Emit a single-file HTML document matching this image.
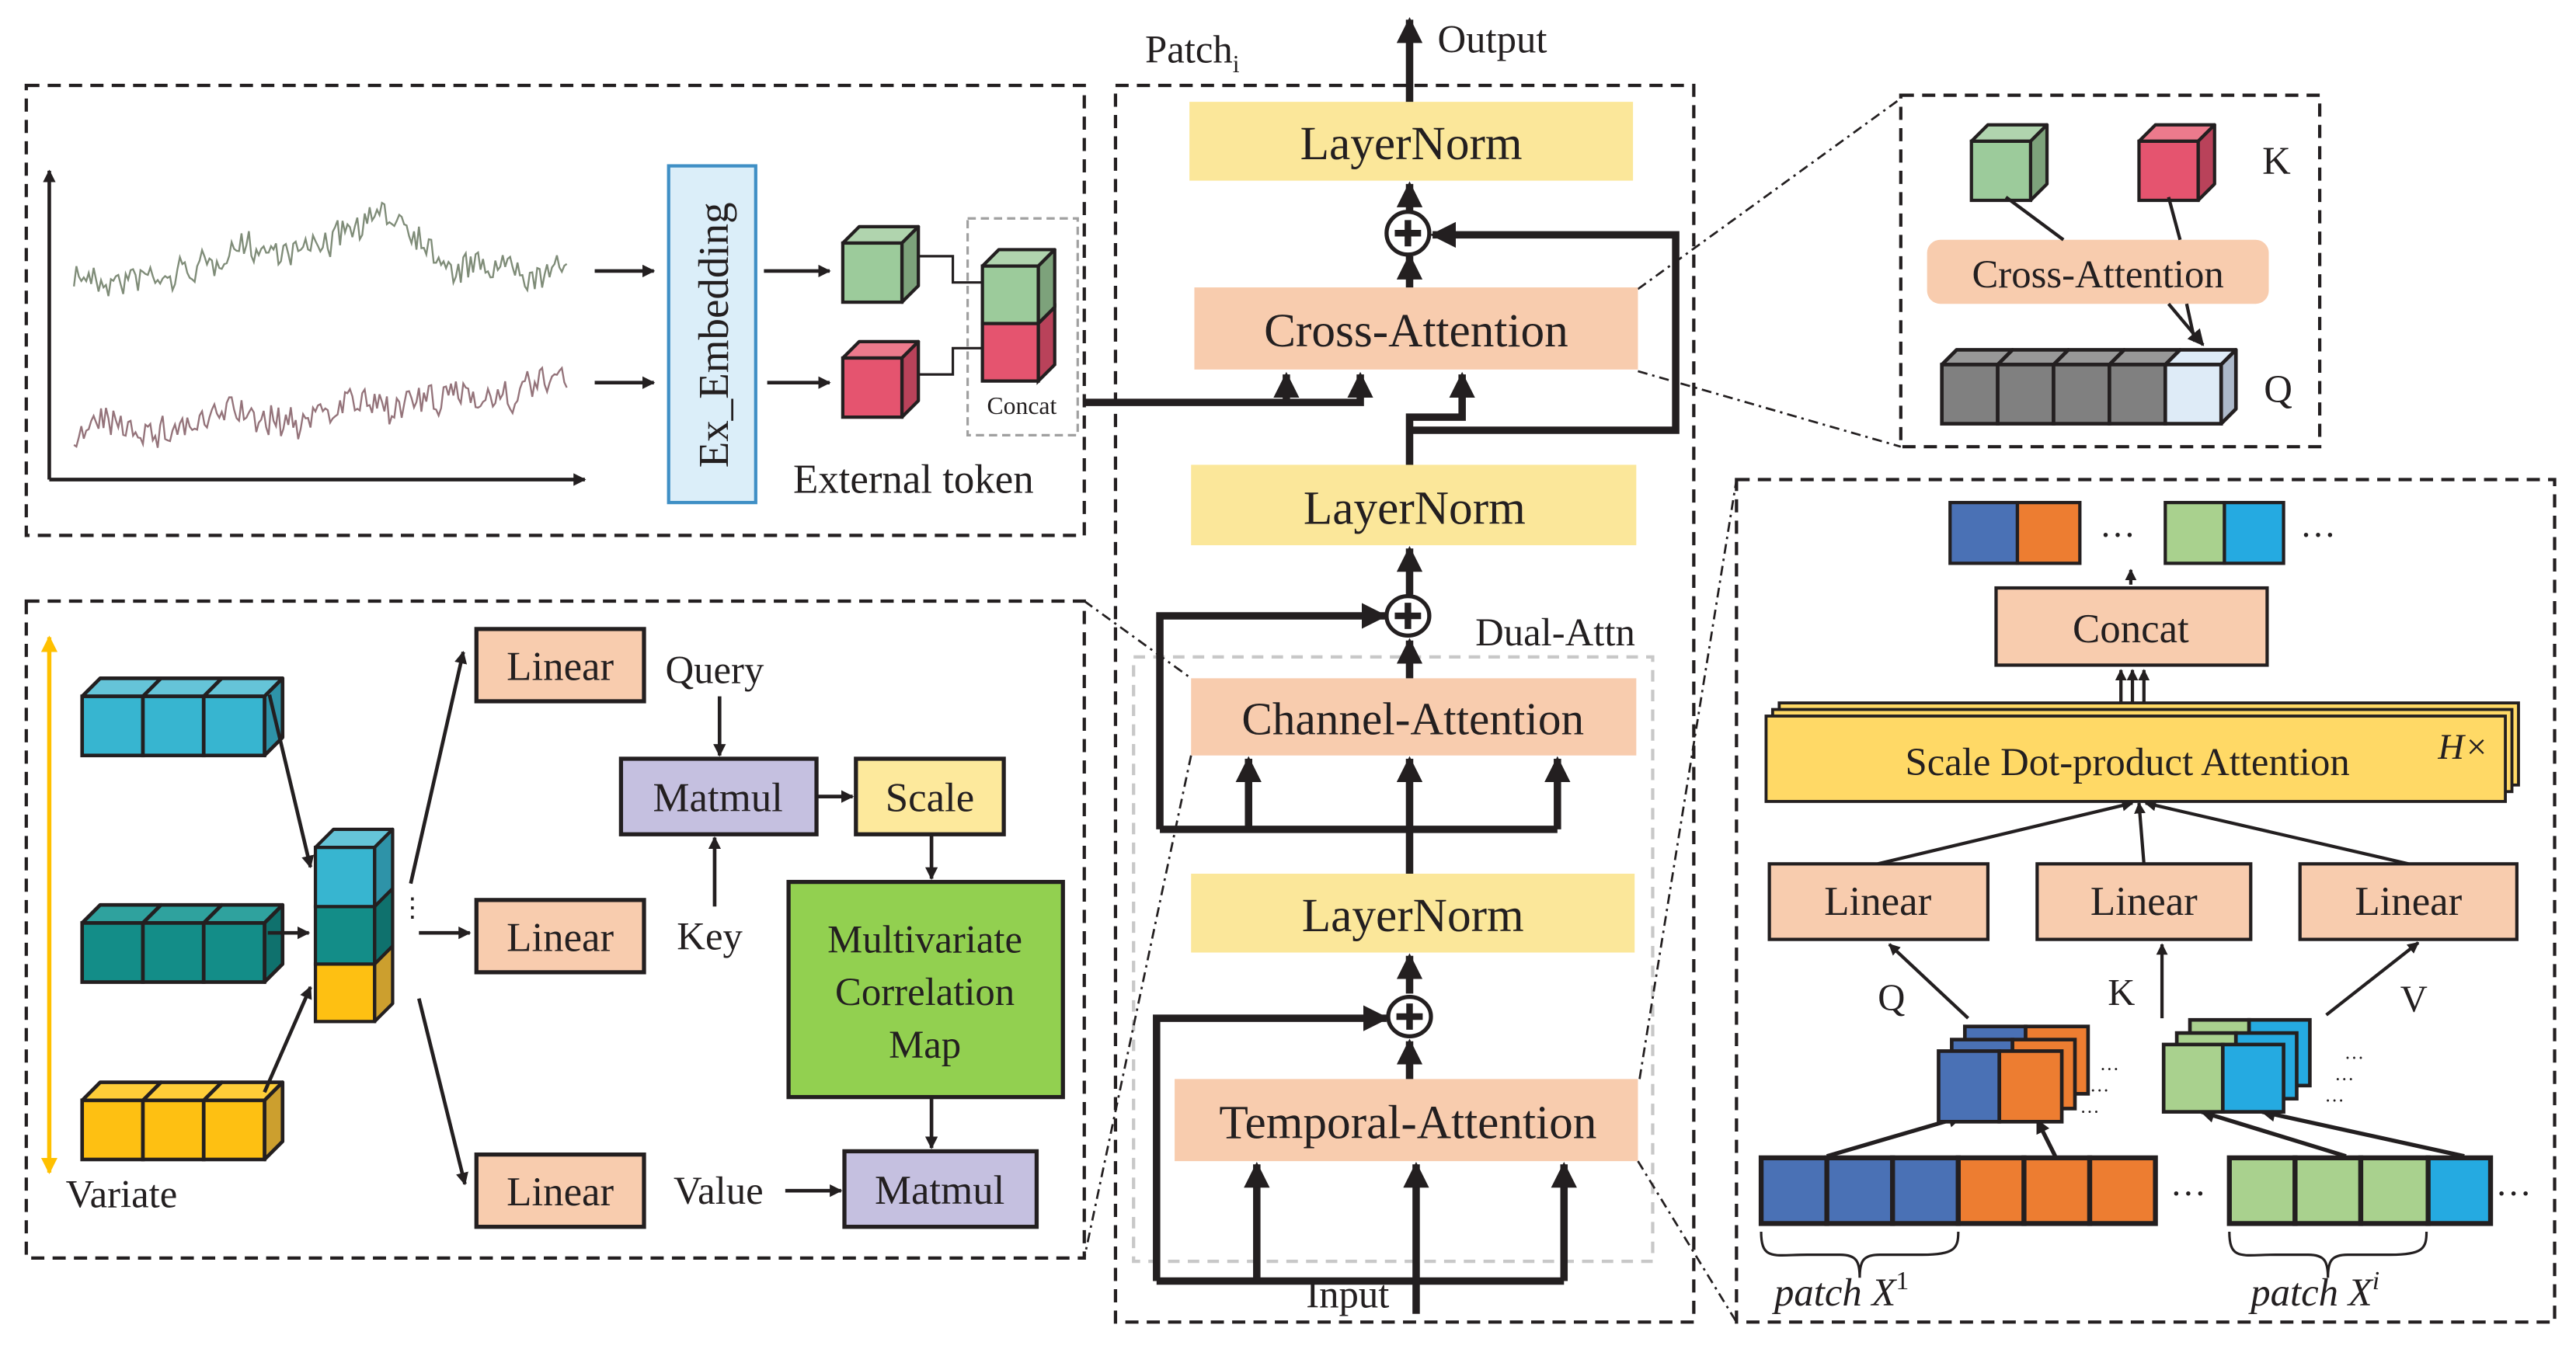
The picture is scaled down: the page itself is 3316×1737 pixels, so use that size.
<!DOCTYPE html>
<html><head><meta charset="utf-8">
<style>
html,body{margin:0;padding:0;background:#fff;}
svg{display:block;}
text{font-family:"Liberation Serif",serif;fill:#231f20;}
</style></head>
<body>
<svg id="s" xmlns="http://www.w3.org/2000/svg" width="3316" height="1737" viewBox="0 0 1568 821.4" preserveAspectRatio="none">
<defs>
<marker id="ah" viewBox="0 0 10 10" refX="9" refY="5" markerWidth="3.5" markerHeight="3.5" orient="auto"><path d="M0,0 L10,5 L0,10 z" fill="#231f20"/></marker>
<marker id="ah2" viewBox="0 0 10 10" refX="9" refY="5" markerWidth="5" markerHeight="5" orient="auto"><path d="M0,0 L10,5 L0,10 z" fill="#231f20"/></marker>
<marker id="ahy" viewBox="0 0 10 10" refX="9" refY="5" markerWidth="4" markerHeight="4" orient="auto"><path d="M0,0 L10,5 L0,10 z" fill="#ffc000"/></marker>
</defs>

<g fill="none" stroke="#231f20" stroke-width="2" stroke-dasharray="8,5">
<rect x="16" y="52" width="644" height="274"/>
<rect x="16" y="366" width="644" height="400"/>
<rect x="679" y="52" width="352" height="753"/>
<rect x="1157" y="58" width="255" height="214"/>
<rect x="1057" y="292" width="498" height="513"/>
</g>
<rect x="690" y="400" width="316" height="368" fill="none" stroke="#c8c8c8" stroke-width="2" stroke-dasharray="7,5"/>
<rect x="589" y="133" width="67" height="132" fill="none" stroke="#a0a0a0" stroke-width="1.5" stroke-dasharray="5,3"/>

<g fill="none" stroke="#231f20" stroke-width="1.3" stroke-dasharray="6,3,1.5,3">
<line x1="997" y1="176" x2="1157" y2="60"/>
<line x1="997" y1="226" x2="1157" y2="272"/>
<line x1="660" y1="366" x2="725" y2="413"/>
<line x1="725" y1="460" x2="660" y2="766"/>
<line x1="998" y1="657" x2="1057" y2="292"/>
<line x1="997" y1="707" x2="1057" y2="805"/>
</g>

<g stroke="#231f20" stroke-width="2.2" fill="none">
<line x1="30" y1="292" x2="30" y2="104" marker-end="url(#ah)"/>
<line x1="30" y1="292" x2="356" y2="292" marker-end="url(#ah)"/>
<line x1="362" y1="165" x2="398" y2="165" marker-end="url(#ah)"/>
<line x1="362" y1="233" x2="398" y2="233" marker-end="url(#ah)"/>
<line x1="465" y1="165" x2="505" y2="165" marker-end="url(#ah)"/>
<line x1="467" y1="233" x2="505" y2="233" marker-end="url(#ah)"/>
<polyline points="553,156 580,156 580,172 598,172" stroke-width="1.5"/>
<polyline points="553,228 580,228 580,212 598,212" stroke-width="1.5"/>
</g>
<polyline id="n1" fill="none" stroke="#7f8c78" stroke-width="1.1"/>
<polyline id="n2" fill="none" stroke="#94737a" stroke-width="1.1"/>

<rect x="407" y="101" width="53" height="205" fill="#dbeef9" stroke="#3f8fc5" stroke-width="2"/>
<text x="0" y="0" font-size="26" text-anchor="middle" transform="translate(443,204) rotate(-90)">Ex_Embedding</text>
<g id="cubesTL"></g>
<text x="622" y="252" font-size="15" text-anchor="middle">Concat</text>
<text x="556" y="300" font-size="25" text-anchor="middle">External token</text>

<rect x="724" y="62" width="270" height="48" fill="#fbe79a"/>
<text x="859" y="97" font-size="29" text-anchor="middle">LayerNorm</text>
<rect x="727" y="175" width="270" height="50" fill="#f8ccae"/>
<text x="862" y="211" font-size="29" text-anchor="middle">Cross-Attention</text>
<rect x="725" y="283" width="271" height="49" fill="#fbe79a"/>
<text x="861" y="319" font-size="29" text-anchor="middle">LayerNorm</text>
<rect x="725" y="413" width="271" height="47" fill="#f8ccae"/>
<text x="860" y="447" font-size="28" text-anchor="middle">Channel-Attention</text>
<rect x="725" y="532" width="270" height="48" fill="#fbe79a"/>
<text x="860" y="567" font-size="29" text-anchor="middle">LayerNorm</text>
<rect x="715" y="657" width="282" height="50" fill="#f8ccae"/>
<text x="857" y="693" font-size="29" text-anchor="middle">Temporal-Attention</text>

<text x="697" y="38" font-size="24">Patch<tspan font-size="15" dy="6">i</tspan></text>
<text x="875" y="32" font-size="24">Output</text>
<text x="898" y="393" font-size="24">Dual-Attn</text>
<text x="795" y="796" font-size="24">Input</text>

<g stroke="#231f20" stroke-width="4.5" fill="none">
<line x1="858" y1="62" x2="858" y2="12" marker-end="url(#ah)"/>
<line x1="858" y1="130" x2="858" y2="112" marker-end="url(#ah)"/>
<line x1="858" y1="175" x2="858" y2="156" marker-end="url(#ah)"/>
<polyline points="660,245 828,245 828,228" marker-end="url(#ah)"/>
<line x1="783" y1="245" x2="783" y2="228" marker-end="url(#ah)"/>
<polyline points="858,283 858,254 890,254 890,228" marker-end="url(#ah)"/>
<polyline points="858,262 1020,262 1020,143 872,143" marker-end="url(#ah)"/>
<line x1="858" y1="362" x2="858" y2="334" marker-end="url(#ah)"/>
<line x1="858" y1="413" x2="858" y2="390" marker-end="url(#ah)"/>
<polyline points="858,532 858,505" />
<polyline points="706,505 948,505"/>
<polyline points="706,505 706,375 843,375" marker-end="url(#ah)"/>
<line x1="760" y1="505" x2="760" y2="462" marker-end="url(#ah)"/>
<line x1="858" y1="505" x2="858" y2="462" marker-end="url(#ah)"/>
<line x1="948" y1="505" x2="948" y2="462" marker-end="url(#ah)"/>
<line x1="858" y1="605" x2="858" y2="582" marker-end="url(#ah)"/>
<line x1="858" y1="657" x2="858" y2="634" marker-end="url(#ah)"/>
<polyline points="704,780 952,780"/>
<polyline points="704,780 704,620 844,620" marker-end="url(#ah)"/>
<line x1="862" y1="800" x2="862" y2="709" marker-end="url(#ah)"/>
<line x1="765" y1="780" x2="765" y2="709" marker-end="url(#ah)"/>
<line x1="952" y1="780" x2="952" y2="709" marker-end="url(#ah)"/>
</g>
<g stroke="#231f20" stroke-width="2.5" fill="#fff">
<ellipse cx="857" cy="142" rx="13" ry="13"/>
<ellipse cx="857" cy="375" rx="13" ry="12"/>
<ellipse cx="858" cy="619" rx="13" ry="12"/>
</g>
<g stroke="#231f20" stroke-width="4">
<line x1="849" y1="142" x2="865" y2="142"/><line x1="857" y1="134" x2="857" y2="150"/>
<line x1="849" y1="375" x2="865" y2="375"/><line x1="857" y1="367" x2="857" y2="383"/>
<line x1="850" y1="619" x2="866" y2="619"/><line x1="858" y1="611" x2="858" y2="627"/>
</g>

<g id="cubesTR"></g>
<rect x="1173" y="146" width="208" height="39" rx="8" fill="#f8ccae"/>
<text x="1277" y="175" font-size="24" text-anchor="middle">Cross-Attention</text>
<g stroke="#231f20" stroke-width="2" fill="none">
<line x1="1320" y1="185" x2="1341" y2="210" marker-end="url(#ah2)"/>
<line x1="1331" y1="185" x2="1336" y2="208"/>
<line x1="1221" y1="120" x2="1256" y2="146"/>
<line x1="1320" y1="120" x2="1327" y2="146"/>
</g>
<text x="1377" y="106" font-size="24">K</text>
<text x="1378" y="245" font-size="24">Q</text>

<line x1="30" y1="712" x2="30" y2="388" stroke="#ffc000" stroke-width="2.5" marker-end="url(#ahy)"/>
<line x1="30" y1="390" x2="30" y2="714" stroke="#ffc000" stroke-width="2.5" marker-end="url(#ahy)"/>
<g id="cubesBL"></g>
<text x="40" y="735" font-size="24">Variate</text>
<g fill="#f8ccae" stroke="#231f20" stroke-width="2.5">
<rect x="290" y="383" width="102" height="44"/>
<rect x="290" y="548" width="102" height="44"/>
<rect x="290" y="703" width="102" height="44"/>
</g>
<text x="341" y="414" font-size="25" text-anchor="middle">Linear</text>
<text x="341" y="579" font-size="25" text-anchor="middle">Linear</text>
<text x="341" y="734" font-size="25" text-anchor="middle">Linear</text>
<rect x="378" y="462" width="119" height="46" fill="#c5c0e0" stroke="#231f20" stroke-width="2.5"/>
<text x="437" y="494" font-size="25" text-anchor="middle">Matmul</text>
<rect x="521" y="462" width="90" height="46" fill="#fde99c" stroke="#231f20" stroke-width="2.5"/>
<text x="566" y="494" font-size="25" text-anchor="middle">Scale</text>
<rect x="480" y="537" width="167" height="131" fill="#92d050" stroke="#231f20" stroke-width="2.5"/>
<text x="563" y="580" font-size="24" text-anchor="middle">Multivariate</text>
<text x="563" y="612" font-size="24" text-anchor="middle">Correlation</text>
<text x="563" y="644" font-size="24" text-anchor="middle">Map</text>
<rect x="514" y="701" width="117" height="46" fill="#c5c0e0" stroke="#231f20" stroke-width="2.5"/>
<text x="572" y="733" font-size="25" text-anchor="middle">Matmul</text>
<text x="405" y="416" font-size="24">Query</text>
<text x="412" y="578" font-size="24">Key</text>
<text x="410" y="733" font-size="24">Value</text>
<text x="243" y="558" font-size="16">⋮</text>
<g stroke="#231f20" stroke-width="2.2" fill="none">
<line x1="164" y1="423" x2="189" y2="528" marker-end="url(#ah)"/>
<line x1="163" y1="568" x2="188" y2="568" marker-end="url(#ah)"/>
<line x1="161" y1="665" x2="189" y2="601" marker-end="url(#ah)"/>
<line x1="250" y1="538" x2="282" y2="397" marker-end="url(#ah)"/>
<line x1="255" y1="568" x2="286" y2="568" marker-end="url(#ah)"/>
<line x1="255" y1="608" x2="283" y2="721" marker-end="url(#ah)"/>
<line x1="438" y1="424" x2="438" y2="460" marker-end="url(#ah)"/>
<line x1="435" y1="552" x2="435" y2="510" marker-end="url(#ah)"/>
<line x1="497" y1="485" x2="519" y2="485" marker-end="url(#ah)"/>
<line x1="567" y1="508" x2="567" y2="535" marker-end="url(#ah)"/>
<line x1="567" y1="668" x2="567" y2="699" marker-end="url(#ah)"/>
<line x1="478" y1="725" x2="512" y2="725" marker-end="url(#ah)"/>
</g>

<g stroke="#231f20" stroke-width="2">
<rect x="1187" y="306" width="41" height="37" fill="#4a71b5"/>
<rect x="1228" y="306" width="38" height="37" fill="#ed7d31"/>
<rect x="1318" y="306" width="36" height="37" fill="#a9d18e"/>
<rect x="1354" y="306" width="36" height="37" fill="#25aae1"/>
</g>
<text x="1278" y="333" font-size="22">···</text>
<text x="1400" y="333" font-size="22">···</text>
<rect x="1215" y="358" width="165" height="47" fill="#f8ccae" stroke="#231f20" stroke-width="2"/>
<text x="1297" y="391" font-size="25" text-anchor="middle">Concat</text>
<g stroke="#231f20" stroke-width="1.8" fill="#ffd966">
<rect x="1083" y="428" width="450" height="50"/>
<rect x="1079" y="432" width="450" height="50"/>
<rect x="1075" y="436" width="450" height="52"/>
</g>
<text x="1295" y="472" font-size="24" text-anchor="middle">Scale Dot-product Attention</text>
<text x="1484" y="462" font-size="22" font-style="italic">H×</text>
<g fill="#f8ccae" stroke="#231f20" stroke-width="2">
<rect x="1077" y="526" width="133" height="46"/>
<rect x="1240" y="526" width="130" height="46"/>
<rect x="1400" y="526" width="132" height="46"/>
</g>
<text x="1143" y="557" font-size="25" text-anchor="middle">Linear</text>
<text x="1305" y="557" font-size="25" text-anchor="middle">Linear</text>
<text x="1466" y="557" font-size="25" text-anchor="middle">Linear</text>
<text x="1143" y="615" font-size="23">Q</text>
<text x="1283" y="612" font-size="23">K</text>
<text x="1461" y="616" font-size="23">V</text>
<g stroke="#231f20" stroke-width="2" fill="none">
<line x1="1297" y1="356" x2="1297" y2="347" marker-end="url(#ah)"/>
<line x1="1291" y1="428" x2="1291" y2="408" marker-end="url(#ah)"/>
<line x1="1298" y1="428" x2="1298" y2="408" marker-end="url(#ah)"/>
<line x1="1305" y1="428" x2="1305" y2="408" marker-end="url(#ah)"/>
<line x1="1143" y1="526" x2="1298" y2="489" marker-end="url(#ah)"/>
<line x1="1305" y1="526" x2="1302" y2="489" marker-end="url(#ah)"/>
<line x1="1466" y1="526" x2="1306" y2="489" marker-end="url(#ah)"/>
<line x1="1198" y1="620" x2="1150" y2="575" marker-end="url(#ah)"/>
<line x1="1316" y1="620" x2="1316" y2="575" marker-end="url(#ah)"/>
<line x1="1416" y1="618" x2="1472" y2="574" marker-end="url(#ah)"/>
<line x1="1112" y1="704" x2="1194" y2="680" stroke-width="2.5" marker-end="url(#ah)"/>
<line x1="1251" y1="704" x2="1240" y2="682" stroke-width="2.5" marker-end="url(#ah)"/>
<line x1="1428" y1="704" x2="1340" y2="677" stroke-width="2.5" marker-end="url(#ah)"/>
<line x1="1500" y1="704" x2="1377" y2="677" stroke-width="2.5" marker-end="url(#ah)"/>
</g>
<g stroke="#231f20" stroke-width="2.2">
<rect x="1196" y="625" width="37" height="41" fill="#4a71b5"/><rect x="1233" y="625" width="38" height="41" fill="#ed7d31"/>
<rect x="1188" y="633" width="37" height="42" fill="#4a71b5"/><rect x="1225" y="633" width="38" height="42" fill="#ed7d31"/>
<rect x="1180" y="640" width="37" height="43" fill="#4a71b5"/><rect x="1217" y="640" width="38" height="43" fill="#ed7d31"/>
<rect x="1333" y="621" width="36" height="40" fill="#a9d18e"/><rect x="1369" y="621" width="37" height="40" fill="#25aae1"/>
<rect x="1325" y="629" width="36" height="40" fill="#a9d18e"/><rect x="1361" y="629" width="37" height="40" fill="#25aae1"/>
<rect x="1317" y="636" width="36" height="41" fill="#a9d18e"/><rect x="1353" y="636" width="37" height="41" fill="#25aae1"/>
</g>
<g font-size="12">
<text x="1278" y="655">···</text><text x="1272" y="668">···</text><text x="1266" y="681">···</text>
<text x="1427" y="648">···</text><text x="1421" y="661">···</text><text x="1415" y="674">···</text>
</g>
<g stroke="#231f20" stroke-width="3">
<rect x="1072" y="705" width="40" height="40" fill="#4a71b5"/>
<rect x="1112" y="705" width="40" height="40" fill="#4a71b5"/>
<rect x="1152" y="705" width="40" height="40" fill="#4a71b5"/>
<rect x="1192" y="705" width="40" height="40" fill="#ed7d31"/>
<rect x="1232" y="705" width="40" height="40" fill="#ed7d31"/>
<rect x="1272" y="705" width="40" height="40" fill="#ed7d31"/>
<rect x="1357" y="705" width="40" height="40" fill="#a9d18e"/>
<rect x="1397" y="705" width="40" height="40" fill="#a9d18e"/>
<rect x="1437" y="705" width="41" height="40" fill="#a9d18e"/>
<rect x="1478" y="705" width="38" height="40" fill="#25aae1"/>
</g>
<text x="1321" y="734" font-size="22">···</text>
<text x="1519" y="734" font-size="22">···</text>
<g stroke="#231f20" stroke-width="1.5" fill="none">
<path d="M1072,750 C1072,768 1080,764 1100,764 L1120,764 C1130,764 1132,768 1132,778 C1132,768 1134,764 1144,764 L1170,764 C1190,764 1192,760 1192,750"/>
<path d="M1357,750 C1357,768 1365,764 1385,764 L1405,764 C1415,764 1417,768 1417,778 C1417,768 1419,764 1429,764 L1455,764 C1475,764 1477,760 1477,750"/>
</g>
<text x="1080" y="795" font-size="24" font-style="italic">patch X<tspan font-size="16" dy="-10" font-style="normal">1</tspan></text>
<text x="1370" y="795" font-size="24" font-style="italic">patch X<tspan font-size="16" dy="-10">i</tspan></text>
</svg>
<script>
(function(){
var NS="http://www.w3.org/2000/svg";
function el(p,t,a){var e=document.createElementNS(NS,t);for(var k in a)e.setAttribute(k,a[k]);p.appendChild(e);return e;}
function topf(g,x,y,w,d,t,sw){el(g,"polygon",{points:[x,y,x+d,y-d,x+w+d,y-d,x+w,y].join(","),fill:t,stroke:"#231f20","stroke-width":sw,"stroke-linejoin":"round"});}
function sidef(g,x,y,h,d,s,sw){el(g,"polygon",{points:[x,y,x+d,y-d,x+d,y+h-d,x,y+h].join(","),fill:s,stroke:"#231f20","stroke-width":sw,"stroke-linejoin":"round"});}
function cube(g,x,y,w,h,d,f,t,s,sw){
 sw=sw||2;
 topf(g,x,y,w,d,t,sw); sidef(g,x+w,y,h,d,s,sw);
 el(g,"rect",{x:x,y:y,width:w,height:h,fill:f,stroke:"#231f20","stroke-width":sw});
}
function row(g,x,y,ws,h,d,fs,ts,ss,sw){
 sw=sw||2.2; var n=ws.length; var xs=[x];
 for(var i=0;i!==n;i++)xs.push(xs[i]+ws[i]);
 for(i=0;i!==n;i++)topf(g,xs[i],y,ws[i],d,ts[i],sw);
 sidef(g,xs[n],y,h,d,ss[n-1],sw);
 for(i=0;i!==n;i++)el(g,"rect",{x:xs[i],y:y,width:ws[i],height:h,fill:fs[i],stroke:"#231f20","stroke-width":sw});
}
function rep(v,n){var a=[];for(var i=0;i!==n;i++)a.push(v);return a;}
var tl=document.getElementById("cubesTL");
cube(tl,513,148,36,36,10,"#9ccb9b","#b0d4ae","#7da27b");
cube(tl,513,218,36,36,10,"#e5546f","#ec7a8c","#b9425a");
cube(tl,598,162,34,35,10,"#9ccb9b","#b0d4ae","#7da27b");
el(tl,"polygon",{points:"632,197 642,187 642,222 632,232",fill:"#b9425a",stroke:"#231f20","stroke-width":2});
el(tl,"rect",{x:598,y:197,width:34,height:35,fill:"#e5546f",stroke:"#231f20","stroke-width":2});
var tr=document.getElementById("cubesTR");
cube(tr,1200,86,36,36,10,"#9ccb9b","#b0d4ae","#7da27b");
cube(tr,1302,86,36,36,10,"#e5546f","#ec7a8c","#b9425a");
row(tr,1182,222,[34,34,34,34,34],36,9,["#808080","#808080","#808080","#808080","#deebf7"],["#989898","#989898","#989898","#989898","#deebf7"],["#6a6a6a","#6a6a6a","#6a6a6a","#6a6a6a","#adb9ca"]);
var bl=document.getElementById("cubesBL");
row(bl,50,424,[37,37,37],36,11,rep("#37b5d0",3),rep("#65c4d8",3),rep("#2e93a8",3));
row(bl,50,562,[37,37,37],36,11,rep("#138d88",3),rep("#2fa29e",3),rep("#0f716d",3));
row(bl,50,670,[37,37,37],36,11,rep("#fec012",3),rep("#fecd38",3),rep("#cc9f2e",3));
cube(bl,192,587,36,35,11,"#fec012","#fecd38","#cc9f2e");
cube(bl,192,552,36,35,11,"#138d88","#2fa29e","#0f716d");
cube(bl,192,516,36,36,11,"#37b5d0","#65c4d8","#2e93a8");
var seed=7;function r(){seed=(seed*16807)%2147483647;return seed/2147483647;}
function series(id,base,amp){var pts=[],w=0;for(var x=45;x<=346;x+=1.5){w+=(r()-0.5)*5;w*=0.93;var y=base(x)+w+(r()-0.5)*amp;pts.push(x.toFixed(1)+","+y.toFixed(1));}document.getElementById(id).setAttribute("points",pts.join(" "));}
series("n1",function(x){if(x<100)return 170-(x-45)*0.1; if(x<245)return 165-(x-100)*0.22; if(x<275) return 133+(x-245)*0.85; return 158+(x-275)*0.03;},16);
series("n2",function(x){return 262-(x-45)*0.09;},18);
})();
</script>
</body></html>
